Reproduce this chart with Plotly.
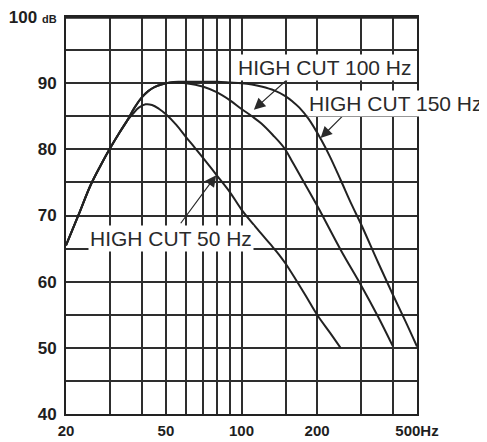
import numpy as np
import plotly.graph_objects as go

# ---- data ----
rise_hz = [20, 22.5, 25, 27.5, 30, 32.5, 35]
rise_db = [65.5, 70.2, 74.5, 77.6, 80.2, 82.4, 84.3]

hc50_hz = rise_hz + [37, 39, 41.5, 44, 47, 50, 55, 60, 65, 70, 80, 90, 100, 116, 130, 141, 150, 164, 180, 200, 225, 248]
hc50_db = rise_db + [85.4, 86.3, 86.8, 86.7, 86.1, 85.3, 83.7, 81.9, 80.3, 78.8, 76.0, 73.5, 70.9, 67.9, 65.7, 64.1, 62.7, 60.4, 57.9, 55.0, 52.3, 50.0]

hc100_hz = rise_hz + [37.5, 40, 42.5, 45, 48, 52, 56, 60, 70, 80, 90, 100, 110, 120, 133, 148, 160, 175, 200, 250, 300, 350, 400]
hc100_db = rise_db + [86.3, 87.8, 88.8, 89.4, 89.8, 90.1, 90.1, 90.0, 89.5, 88.6, 87.4, 86.1, 85.0, 83.9, 82.2, 80.2, 78.0, 75.4, 71.5, 64.6, 59.4, 54.7, 50.3]

hc150_hz = rise_hz + [37.5, 40, 42.5, 45, 48, 52, 56, 60, 70, 80, 90, 100, 110, 120, 135, 150, 160, 170, 185, 208, 225, 248, 275, 300, 350, 400, 450, 500]
hc150_db = rise_db + [86.3, 87.8, 88.8, 89.4, 89.8, 90.1, 90.2, 90.2, 90.2, 90.2, 90.1, 90.0, 89.8, 89.5, 88.9, 88.0, 87.2, 86.3, 84.6, 81.4, 78.9, 75.4, 71.6, 68.6, 62.9, 58.1, 54.0, 50.2]

x_grid = [20, 30, 40, 50, 60, 70, 80, 90, 100, 150, 200, 300, 400, 500]
x_labels = ["20", "", "", "50", "", "", "", "", "100", "", "200", "", "", "500Hz"]
y_grid = [40, 45, 50, 55, 60, 65, 70, 75, 80, 85, 90, 95, 100]
y_labels = ["40", "", "50", "", "60", "", "70", "", "80", "", "90", "",
            "100 <span style='font-size:11px'>dB</span>"]

LINE = "#222222"
GRID = "#2e2e2e"
TXT = "#1e1e1e"

fig = go.Figure()
for xs, ys in [(hc50_hz, hc50_db), (hc100_hz, hc100_db), (hc150_hz, hc150_db)]:
    fig.add_trace(go.Scatter(x=xs, y=ys, mode="lines",
                             line=dict(color=LINE, width=2, shape="spline", smoothing=1.0),
                             hoverinfo="skip", showlegend=False))

L = np.log10
ann_font = dict(family="Liberation Sans, Arial, sans-serif", size=21, color="#2a2a2a")
annotations = []
# arrows (tip on curve, tail near the label)
for tip, tail in [((112, 86.0), (154.6, 90.8)),
                  ((206.5, 81.7), (255.4, 85.2)),
                  ((79.3, 76.1), (56.7, 68.6))]:
    annotations.append(dict(x=L(tip[0]), y=tip[1], ax=L(tail[0]), ay=tail[1],
                            xref="x", yref="y", axref="x", ayref="y",
                            text="", showarrow=True, arrowhead=2, arrowsize=1.9,
                            arrowwidth=1.2, arrowcolor="#2a2a2a"))
for txt, pos in [("HIGH CUT 100 Hz", (214.7, 92.3)),
                 ("HIGH CUT 150 Hz", (414, 87.0)),
                 ("HIGH CUT 50 Hz", (52.6, 66.5))]:
    annotations.append(dict(x=L(pos[0]), y=pos[1], xref="x", yref="y", text=txt,
                            showarrow=False, font=ann_font, bgcolor="white",
                            borderpad=1, xanchor="center", yanchor="middle"))

# the page body adds an 8px offset; size the figure to fit the 487x442 window
fig.update_layout(
    width=479, height=434,
    margin=dict(l=58, r=70, t=9, b=28, autoexpand=False),
    paper_bgcolor="white", plot_bgcolor="white",
    annotations=annotations,
    shapes=[dict(type="line", xref="paper", yref="paper", x0=0, x1=1, y0=1, y1=1,
                 line=dict(color=LINE, width=3.4))],
    xaxis=dict(type="log", range=[L(20), L(500)], tickvals=x_grid, ticktext=x_labels,
               showgrid=True, gridcolor=GRID, gridwidth=1.8, ticks="",
               showline=True, linecolor=LINE, linewidth=2.2, mirror=True,
               zeroline=False, ticklabelstandoff=2, automargin=False,
               ticklabeloverflow="allow",
               tickfont=dict(family="Liberation Sans, Arial, sans-serif", size=15, color=TXT,
                             weight="bold")),
    yaxis=dict(range=[40, 100], tickvals=y_grid, ticktext=y_labels,
               showgrid=True, gridcolor=GRID, gridwidth=1.8, ticks="",
               showline=True, linecolor=LINE, linewidth=2, mirror=True,
               zeroline=False, ticklabelstandoff=4, automargin=False,
               ticklabeloverflow="allow",
               tickfont=dict(family="Liberation Sans, Arial, sans-serif", size=17, color=TXT,
                             weight="bold")),
)
fig.write_html("out.html")
